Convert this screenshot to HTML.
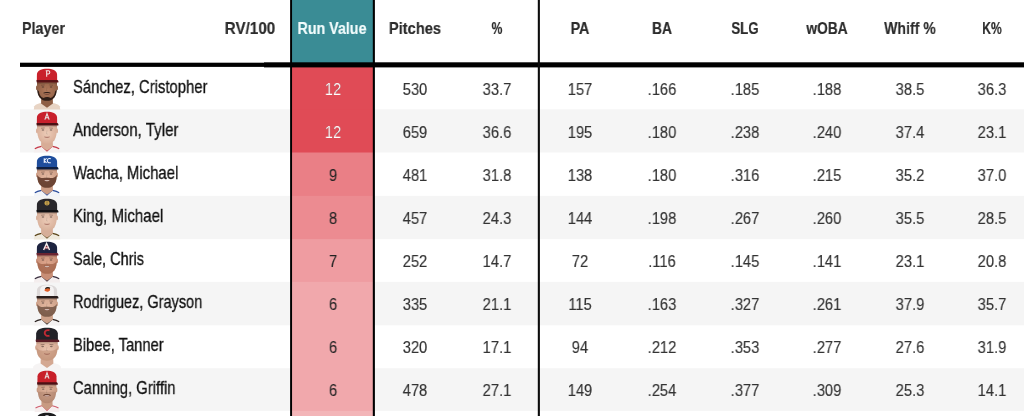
<!DOCTYPE html>
<html><head><meta charset="utf-8"><style>
html,body{margin:0;padding:0;background:#fff;}
body{width:1024px;height:416px;overflow:hidden;position:relative;font-family:"Liberation Sans",sans-serif;}
.a{position:absolute;}
.t{position:absolute;white-space:nowrap;line-height:normal;will-change:transform;}
.c{text-align:center;width:120px;transform-origin:60px 0;}
.h{font-weight:bold;color:#2b2b2b;font-size:17.3px;-webkit-text-stroke:0.2px currentColor;}
.n{color:#333;font-size:17.4px;-webkit-text-stroke:0.15px #333;}
.nm{color:#111;font-size:17.8px;transform-origin:0 0;-webkit-text-stroke:0.3px #111;}
</style></head><body>

<svg class="a" style="left:0;top:0" width="1024" height="416" viewBox="0 0 1024 416"><rect x="20" y="109.30" width="1004" height="43.20" fill="#f5f5f5"/><rect x="20" y="195.90" width="1004" height="43.20" fill="#f5f5f5"/><rect x="20" y="281.90" width="1004" height="43.45" fill="#f5f5f5"/><rect x="20" y="368.20" width="1004" height="42.70" fill="#f5f5f5"/><rect x="291" y="0" width="83" height="64" fill="#3a8c95"/><rect x="291" y="66.90" width="83" height="43.40" fill="#e04b56"/><rect x="291" y="109.30" width="83" height="44.20" fill="#e04b56"/><rect x="291" y="152.50" width="83" height="44.40" fill="#ea7f86"/><rect x="291" y="195.90" width="83" height="44.20" fill="#ec8b91"/><rect x="291" y="239.10" width="83" height="43.80" fill="#ef9ca1"/><rect x="291" y="281.90" width="83" height="44.45" fill="#f1a8ac"/><rect x="291" y="325.35" width="83" height="43.85" fill="#f1a8ac"/><rect x="291" y="368.20" width="83" height="43.70" fill="#f1a8ac"/><rect x="291" y="410.90" width="83" height="44.10" fill="#f3b5b8"/><rect x="20" y="62.7" width="244" height="4.2" fill="#000"/><rect x="264" y="62.3" width="760" height="5.1" fill="#000"/><rect x="290.1" y="0" width="1.95" height="416" fill="#000"/><rect x="372.8" y="0" width="2.1" height="416" fill="#000"/><rect x="537.8" y="0" width="2.1" height="416" fill="#0c0c0c"/></svg>
<div class="t h" style="left:22.40px;top:18.04px;transform:scaleX(0.8280);transform-origin:0 0">Player</div>
<div class="t h c" style="left:272.40px;top:18.04px;transform:scaleX(0.8249);color:#f2fcfc">Run Value</div>
<div class="t h c" style="left:189.95px;top:18.04px;transform:scaleX(0.8800)">RV/100</div>
<div class="t h c" style="left:354.60px;top:18.04px;transform:scaleX(0.8483)">Pitches</div>
<div class="t h c" style="left:437.00px;top:18.04px;transform:scaleX(0.6957)">%</div>
<div class="t h c" style="left:519.90px;top:18.04px;transform:scaleX(0.8308)">PA</div>
<div class="t h c" style="left:602.30px;top:18.04px;transform:scaleX(0.7966)">BA</div>
<div class="t h c" style="left:684.50px;top:18.04px;transform:scaleX(0.7703)">SLG</div>
<div class="t h c" style="left:767.20px;top:18.04px;transform:scaleX(0.7930)">wOBA</div>
<div class="t h c" style="left:849.70px;top:18.04px;transform:scaleX(0.8152)">Whiff %</div>
<div class="t h c" style="left:932.40px;top:18.04px;transform:scaleX(0.7068)">K%</div>
<div class="t nm" style="left:73.30px;top:76.69px;transform:scaleX(0.8346)">Sánchez, Cristopher</div>
<div class="t n c" style="left:272.50px;top:79.15px;transform:scaleX(0.8450);color:#ffffff">12</div>
<div class="t n c" style="left:355.30px;top:79.15px;transform:scaleX(0.8450)">530</div>
<div class="t n c" style="left:436.80px;top:79.15px;transform:scaleX(0.8450)">33.7</div>
<div class="t n c" style="left:520.10px;top:79.15px;transform:scaleX(0.8450)">157</div>
<div class="t n c" style="left:602.40px;top:79.15px;transform:scaleX(0.8450)">.166</div>
<div class="t n c" style="left:685.00px;top:79.15px;transform:scaleX(0.8450)">.185</div>
<div class="t n c" style="left:767.40px;top:79.15px;transform:scaleX(0.8450)">.188</div>
<div class="t n c" style="left:850.00px;top:79.15px;transform:scaleX(0.8450)">38.5</div>
<div class="t n c" style="left:932.20px;top:79.15px;transform:scaleX(0.8450)">36.3</div>
<div class="t nm" style="left:73.30px;top:119.69px;transform:scaleX(0.8493)">Anderson, Tyler</div>
<div class="t n c" style="left:272.50px;top:122.15px;transform:scaleX(0.8450);color:#ffffff">12</div>
<div class="t n c" style="left:355.30px;top:122.15px;transform:scaleX(0.8450)">659</div>
<div class="t n c" style="left:436.80px;top:122.15px;transform:scaleX(0.8450)">36.6</div>
<div class="t n c" style="left:520.10px;top:122.15px;transform:scaleX(0.8450)">195</div>
<div class="t n c" style="left:602.40px;top:122.15px;transform:scaleX(0.8450)">.180</div>
<div class="t n c" style="left:685.00px;top:122.15px;transform:scaleX(0.8450)">.238</div>
<div class="t n c" style="left:767.40px;top:122.15px;transform:scaleX(0.8450)">.240</div>
<div class="t n c" style="left:850.00px;top:122.15px;transform:scaleX(0.8450)">37.4</div>
<div class="t n c" style="left:932.20px;top:122.15px;transform:scaleX(0.8450)">23.1</div>
<div class="t nm" style="left:73.30px;top:162.69px;transform:scaleX(0.8367)">Wacha, Michael</div>
<div class="t n c" style="left:272.50px;top:165.15px;transform:scaleX(0.8450);color:#222">9</div>
<div class="t n c" style="left:355.30px;top:165.15px;transform:scaleX(0.8450)">481</div>
<div class="t n c" style="left:436.80px;top:165.15px;transform:scaleX(0.8450)">31.8</div>
<div class="t n c" style="left:520.10px;top:165.15px;transform:scaleX(0.8450)">138</div>
<div class="t n c" style="left:602.40px;top:165.15px;transform:scaleX(0.8450)">.180</div>
<div class="t n c" style="left:685.00px;top:165.15px;transform:scaleX(0.8450)">.316</div>
<div class="t n c" style="left:767.40px;top:165.15px;transform:scaleX(0.8450)">.215</div>
<div class="t n c" style="left:850.00px;top:165.15px;transform:scaleX(0.8450)">35.2</div>
<div class="t n c" style="left:932.20px;top:165.15px;transform:scaleX(0.8450)">37.0</div>
<div class="t nm" style="left:73.30px;top:205.69px;transform:scaleX(0.8460)">King, Michael</div>
<div class="t n c" style="left:272.50px;top:208.15px;transform:scaleX(0.8450);color:#222">8</div>
<div class="t n c" style="left:355.30px;top:208.15px;transform:scaleX(0.8450)">457</div>
<div class="t n c" style="left:436.80px;top:208.15px;transform:scaleX(0.8450)">24.3</div>
<div class="t n c" style="left:520.10px;top:208.15px;transform:scaleX(0.8450)">144</div>
<div class="t n c" style="left:602.40px;top:208.15px;transform:scaleX(0.8450)">.198</div>
<div class="t n c" style="left:685.00px;top:208.15px;transform:scaleX(0.8450)">.267</div>
<div class="t n c" style="left:767.40px;top:208.15px;transform:scaleX(0.8450)">.260</div>
<div class="t n c" style="left:850.00px;top:208.15px;transform:scaleX(0.8450)">35.5</div>
<div class="t n c" style="left:932.20px;top:208.15px;transform:scaleX(0.8450)">28.5</div>
<div class="t nm" style="left:73.30px;top:248.69px;transform:scaleX(0.8167)">Sale, Chris</div>
<div class="t n c" style="left:272.50px;top:251.15px;transform:scaleX(0.8450);color:#222">7</div>
<div class="t n c" style="left:355.30px;top:251.15px;transform:scaleX(0.8450)">252</div>
<div class="t n c" style="left:436.80px;top:251.15px;transform:scaleX(0.8450)">14.7</div>
<div class="t n c" style="left:520.10px;top:251.15px;transform:scaleX(0.8450)">72</div>
<div class="t n c" style="left:602.40px;top:251.15px;transform:scaleX(0.8450)">.116</div>
<div class="t n c" style="left:685.00px;top:251.15px;transform:scaleX(0.8450)">.145</div>
<div class="t n c" style="left:767.40px;top:251.15px;transform:scaleX(0.8450)">.141</div>
<div class="t n c" style="left:850.00px;top:251.15px;transform:scaleX(0.8450)">23.1</div>
<div class="t n c" style="left:932.20px;top:251.15px;transform:scaleX(0.8450)">20.8</div>
<div class="t nm" style="left:73.30px;top:291.69px;transform:scaleX(0.8175)">Rodriguez, Grayson</div>
<div class="t n c" style="left:272.50px;top:294.15px;transform:scaleX(0.8450);color:#222">6</div>
<div class="t n c" style="left:355.30px;top:294.15px;transform:scaleX(0.8450)">335</div>
<div class="t n c" style="left:436.80px;top:294.15px;transform:scaleX(0.8450)">21.1</div>
<div class="t n c" style="left:520.10px;top:294.15px;transform:scaleX(0.8450)">115</div>
<div class="t n c" style="left:602.40px;top:294.15px;transform:scaleX(0.8450)">.163</div>
<div class="t n c" style="left:685.00px;top:294.15px;transform:scaleX(0.8450)">.327</div>
<div class="t n c" style="left:767.40px;top:294.15px;transform:scaleX(0.8450)">.261</div>
<div class="t n c" style="left:850.00px;top:294.15px;transform:scaleX(0.8450)">37.9</div>
<div class="t n c" style="left:932.20px;top:294.15px;transform:scaleX(0.8450)">35.7</div>
<div class="t nm" style="left:73.30px;top:334.69px;transform:scaleX(0.8290)">Bibee, Tanner</div>
<div class="t n c" style="left:272.50px;top:337.15px;transform:scaleX(0.8450);color:#222">6</div>
<div class="t n c" style="left:355.30px;top:337.15px;transform:scaleX(0.8450)">320</div>
<div class="t n c" style="left:436.80px;top:337.15px;transform:scaleX(0.8450)">17.1</div>
<div class="t n c" style="left:520.10px;top:337.15px;transform:scaleX(0.8450)">94</div>
<div class="t n c" style="left:602.40px;top:337.15px;transform:scaleX(0.8450)">.212</div>
<div class="t n c" style="left:685.00px;top:337.15px;transform:scaleX(0.8450)">.353</div>
<div class="t n c" style="left:767.40px;top:337.15px;transform:scaleX(0.8450)">.277</div>
<div class="t n c" style="left:850.00px;top:337.15px;transform:scaleX(0.8450)">27.6</div>
<div class="t n c" style="left:932.20px;top:337.15px;transform:scaleX(0.8450)">31.9</div>
<div class="t nm" style="left:73.30px;top:377.69px;transform:scaleX(0.8318)">Canning, Griffin</div>
<div class="t n c" style="left:272.50px;top:380.15px;transform:scaleX(0.8450);color:#222">6</div>
<div class="t n c" style="left:355.30px;top:380.15px;transform:scaleX(0.8450)">478</div>
<div class="t n c" style="left:436.80px;top:380.15px;transform:scaleX(0.8450)">27.1</div>
<div class="t n c" style="left:520.10px;top:380.15px;transform:scaleX(0.8450)">149</div>
<div class="t n c" style="left:602.40px;top:380.15px;transform:scaleX(0.8450)">.254</div>
<div class="t n c" style="left:685.00px;top:380.15px;transform:scaleX(0.8450)">.377</div>
<div class="t n c" style="left:767.40px;top:380.15px;transform:scaleX(0.8450)">.309</div>
<div class="t n c" style="left:850.00px;top:380.15px;transform:scaleX(0.8450)">25.3</div>
<div class="t n c" style="left:932.20px;top:380.15px;transform:scaleX(0.8450)">14.1</div>
<svg class="a" style="left:33.00px;top:68.40px;filter:blur(0.35px);transform:scale(1.060,1.020);transform-origin:14px 0" width="28" height="41" viewBox="0 0 28 41"><defs><radialGradient id="h1" cx="0.5" cy="0.45" r="0.6"><stop offset="0" stop-color="#b27a5c"/><stop offset="1" stop-color="#8e5e44"/></radialGradient></defs><path d="M1.5,41 L2,37.5 C3.5,35.4 6.5,34.7 9,34.4 L19,34.4 C21.5,34.7 24.5,35.4 26,37.5 L26.5,41 Z" fill="#e8d4c4"/><path d="M8.6,27 L19.4,27 L19.6,34.8 L14,39 L8.4,34.8 Z" fill="#8e5e44"/><ellipse cx="4.6" cy="19.5" rx="1.0" ry="2.4" fill="#8e5e44"/><ellipse cx="23.4" cy="19.5" rx="1.0" ry="2.4" fill="#8e5e44"/><path d="M4.6,13.8 L23.4,13.8 C23.6,20 23,25.5 21,28.6 C19,31.4 16.6,32 14,32 C11.4,32 9,31.4 7,28.6 C5,25.5 4.4,20 4.6,13.8 Z" fill="url(#h1)"/><path d="M4.8,21 C5,25 5.6,26.8 7,28.6 C9,31.4 11.4,32.2 14,32.2 C16.6,32.2 19,31.4 21,28.6 C22.4,26.8 23,25 23.2,21 L21.6,23 C21.2,26.5 19.8,28.8 17.2,29.4 C15.6,28 12.4,28 10.8,29.4 C8.2,28.8 6.8,26.5 6.4,23 Z" fill="#231612" fill-opacity="0.90"/><path d="M10.6,24.2 C12,23.2 16,23.2 17.4,24.2 L17.2,25 C15.6,24.4 12.4,24.4 10.8,25 Z" fill="#231612" fill-opacity="0.90"/><ellipse cx="10.2" cy="18.6" rx="1.2" ry="0.65" fill="#2e2220" fill-opacity="0.5"/><ellipse cx="17.8" cy="18.6" rx="1.2" ry="0.65" fill="#2e2220" fill-opacity="0.5"/><path d="M8.4,16.9 L11.8,16.6 M16.2,16.6 L19.6,16.9" stroke="#4a3026" stroke-opacity="0.5" stroke-width="0.8"/><path d="M14,19 L13.4,22.4 L14.8,22.6" stroke="#000" stroke-opacity="0.12" stroke-width="0.7" fill="none"/><path d="M11.6,25.4 C13,26 15,26 16.4,25.4" stroke="#5a3028" stroke-width="0.9" fill="none" stroke-opacity="0.7"/><rect x="4.7" y="14" width="18.6" height="1.6" fill="#000" fill-opacity="0.14"/><path d="M4.4,12.8 L4.5,6 C5,2.2 8.8,0.7 14,0.7 C19.2,0.7 23,2.2 23.5,6 L23.6,12.8 Z" fill="#c9212b"/><path d="M4.2,11.8 L23.8,11.8 C24.6,12.3 25,13.2 24.7,14.3 L4.4,14.3 C4,13.4 4,12.5 4.2,11.8 Z" fill="#5a1216"/><path d="M12.8,2.8 L15.4,2.8 C17,2.8 17.1,5.7 15.4,5.8 L13.9,5.8 M13.7,2.8 L13.7,8.6" fill="none" stroke="#f4e8e8" stroke-width="1.0"/></svg>
<svg class="a" style="left:33.00px;top:111.45px;filter:blur(0.35px);transform:scale(1.060,1.020);transform-origin:14px 0" width="28" height="41" viewBox="0 0 28 41"><defs><radialGradient id="h2" cx="0.5" cy="0.45" r="0.6"><stop offset="0" stop-color="#ecccb8"/><stop offset="1" stop-color="#d8ac96"/></radialGradient></defs><path d="M1.5,41 L2,37.5 C3.5,35.4 6.5,34.7 9,34.4 L19,34.4 C21.5,34.7 24.5,35.4 26,37.5 L26.5,41 Z" fill="#f6f0f0"/><path d="M2.5,37 C5,35.5 7.5,35 9.2,34.6 L14,39.2 L18.8,34.6 C20.5,35 23,35.5 25.5,37" fill="none" stroke="#c43848" stroke-width="1.1"/><path d="M8.6,27 L19.4,27 L19.6,34.8 L14,39 L8.4,34.8 Z" fill="#d8ac96"/><ellipse cx="4.6" cy="19.5" rx="1.0" ry="2.4" fill="#d8ac96"/><ellipse cx="23.4" cy="19.5" rx="1.0" ry="2.4" fill="#d8ac96"/><path d="M4.6,13.8 L23.4,13.8 C23.6,20 23,25.5 21,28.6 C19,31.4 16.6,32 14,32 C11.4,32 9,31.4 7,28.6 C5,25.5 4.4,20 4.6,13.8 Z" fill="url(#h2)"/><ellipse cx="10.2" cy="18.6" rx="1.2" ry="0.65" fill="#2e2220" fill-opacity="0.5"/><ellipse cx="17.8" cy="18.6" rx="1.2" ry="0.65" fill="#2e2220" fill-opacity="0.5"/><path d="M8.4,16.9 L11.8,16.6 M16.2,16.6 L19.6,16.9" stroke="#4a3026" stroke-opacity="0.5" stroke-width="0.8"/><path d="M14,19 L13.4,22.4 L14.8,22.6" stroke="#000" stroke-opacity="0.12" stroke-width="0.7" fill="none"/><path d="M11.6,25.4 C13,26 15,26 16.4,25.4" stroke="#8a4a40" stroke-width="0.9" fill="none" stroke-opacity="0.7"/><rect x="4.7" y="14" width="18.6" height="1.6" fill="#000" fill-opacity="0.14"/><path d="M4.4,12.8 L4.5,6 C5,2.2 8.8,0.7 14,0.7 C19.2,0.7 23,2.2 23.5,6 L23.6,12.8 Z" fill="#c8202c"/><path d="M4.2,11.8 L23.8,11.8 C24.6,12.3 25,13.2 24.7,14.3 L4.4,14.3 C4,13.4 4,12.5 4.2,11.8 Z" fill="#4a1014"/><path d="M12,8.4 L14,2.6 L16,8.4 M12.8,6.6 L15.2,6.6" fill="none" stroke="#e8e0e0" stroke-width="1.1"/></svg>
<svg class="a" style="left:33.00px;top:154.50px;filter:blur(0.35px);transform:scale(1.060,1.020);transform-origin:14px 0" width="28" height="41" viewBox="0 0 28 41"><defs><radialGradient id="h3" cx="0.5" cy="0.45" r="0.6"><stop offset="0" stop-color="#e6bca4"/><stop offset="1" stop-color="#cc9c84"/></radialGradient></defs><path d="M1.5,41 L2,37.5 C3.5,35.4 6.5,34.7 9,34.4 L19,34.4 C21.5,34.7 24.5,35.4 26,37.5 L26.5,41 Z" fill="#f2f4f8"/><path d="M2.5,37 C5,35.5 7.5,35 9.2,34.6 L14,39.2 L18.8,34.6 C20.5,35 23,35.5 25.5,37" fill="none" stroke="#2a4c9c" stroke-width="1.1"/><path d="M8.6,27 L19.4,27 L19.6,34.8 L14,39 L8.4,34.8 Z" fill="#cc9c84"/><ellipse cx="4.6" cy="19.5" rx="1.0" ry="2.4" fill="#cc9c84"/><ellipse cx="23.4" cy="19.5" rx="1.0" ry="2.4" fill="#cc9c84"/><path d="M4.6,13.8 L23.4,13.8 C23.6,20 23,25.5 21,28.6 C19,31.4 16.6,32 14,32 C11.4,32 9,31.4 7,28.6 C5,25.5 4.4,20 4.6,13.8 Z" fill="url(#h3)"/><path d="M4.7,19.5 C4.9,24.5 5.6,26.8 7,28.6 C9,31.4 11.4,32.2 14,32.2 C16.6,32.2 19,31.4 21,28.6 C22.4,26.8 23.1,24.5 23.3,19.5 C21.8,21.6 19.8,22.6 17.8,22.6 C16,22.2 12,22.2 10.2,22.6 C8.2,22.6 6.2,21.6 4.7,19.5 Z" fill="#5a3424" fill-opacity="0.85"/><ellipse cx="10.2" cy="18.6" rx="1.2" ry="0.65" fill="#2e2220" fill-opacity="0.5"/><ellipse cx="17.8" cy="18.6" rx="1.2" ry="0.65" fill="#2e2220" fill-opacity="0.5"/><path d="M8.4,16.9 L11.8,16.6 M16.2,16.6 L19.6,16.9" stroke="#4a3026" stroke-opacity="0.5" stroke-width="0.8"/><path d="M14,19 L13.4,22.4 L14.8,22.6" stroke="#000" stroke-opacity="0.12" stroke-width="0.7" fill="none"/><path d="M11.2,24.6 C12.4,26.2 15.6,26.2 16.8,24.6 Z" fill="#f4eee8" stroke="#7a3a30" stroke-width="0.5" stroke-opacity="0.7"/><rect x="4.7" y="14" width="18.6" height="1.6" fill="#000" fill-opacity="0.14"/><path d="M4.4,12.8 L4.5,6 C5,2.2 8.8,0.7 14,0.7 C19.2,0.7 23,2.2 23.5,6 L23.6,12.8 Z" fill="#1f4d9c"/><path d="M4.2,11.8 L23.8,11.8 C24.6,12.3 25,13.2 24.7,14.3 L4.4,14.3 C4,13.4 4,12.5 4.2,11.8 Z" fill="#0e1e40"/><path d="M11.4,3.2 L11.4,7.8 M11.4,5.6 L13.6,3.2 M11.4,5.6 L13.6,7.8 M17.6,3.6 C15.2,2.8 14.3,4.3 14.3,5.5 C14.3,7.1 15.5,8.1 17.6,7.5" fill="none" stroke="#f0f4ff" stroke-width="1.0"/></svg>
<svg class="a" style="left:33.00px;top:197.55px;filter:blur(0.35px);transform:scale(1.060,1.020);transform-origin:14px 0" width="28" height="41" viewBox="0 0 28 41"><defs><radialGradient id="h4" cx="0.5" cy="0.45" r="0.6"><stop offset="0" stop-color="#eccab6"/><stop offset="1" stop-color="#d6ae98"/></radialGradient></defs><path d="M1.5,41 L2,37.5 C3.5,35.4 6.5,34.7 9,34.4 L19,34.4 C21.5,34.7 24.5,35.4 26,37.5 L26.5,41 Z" fill="#efe9dc"/><path d="M2.5,37 C5,35.5 7.5,35 9.2,34.6 L14,39.2 L18.8,34.6 C20.5,35 23,35.5 25.5,37" fill="none" stroke="#5a4418" stroke-width="1.1"/><path d="M8.6,27 L19.4,27 L19.6,34.8 L14,39 L8.4,34.8 Z" fill="#d6ae98"/><ellipse cx="4.6" cy="19.5" rx="1.0" ry="2.4" fill="#d6ae98"/><ellipse cx="23.4" cy="19.5" rx="1.0" ry="2.4" fill="#d6ae98"/><path d="M4.6,13.8 L23.4,13.8 C23.6,20 23,25.5 21,28.6 C19,31.4 16.6,32 14,32 C11.4,32 9,31.4 7,28.6 C5,25.5 4.4,20 4.6,13.8 Z" fill="url(#h4)"/><ellipse cx="10.2" cy="18.6" rx="1.2" ry="0.65" fill="#2e2220" fill-opacity="0.5"/><ellipse cx="17.8" cy="18.6" rx="1.2" ry="0.65" fill="#2e2220" fill-opacity="0.5"/><path d="M8.4,16.9 L11.8,16.6 M16.2,16.6 L19.6,16.9" stroke="#4a3026" stroke-opacity="0.5" stroke-width="0.8"/><path d="M14,19 L13.4,22.4 L14.8,22.6" stroke="#000" stroke-opacity="0.12" stroke-width="0.7" fill="none"/><path d="M11.6,25.4 C13,26 15,26 16.4,25.4" stroke="#8a4a40" stroke-width="0.9" fill="none" stroke-opacity="0.7"/><rect x="4.7" y="14" width="18.6" height="1.6" fill="#000" fill-opacity="0.14"/><path d="M4.4,12.8 L4.5,6 C5,2.2 8.8,0.7 14,0.7 C19.2,0.7 23,2.2 23.5,6 L23.6,12.8 Z" fill="#29272b"/><path d="M4.2,11.8 L23.8,11.8 C24.6,12.3 25,13.2 24.7,14.3 L4.4,14.3 C4,13.4 4,12.5 4.2,11.8 Z" fill="#121114"/><circle cx="14" cy="5" r="2.4" fill="#c9a24a"/><path d="M13,4 L15,4 M13,6 L15,6" stroke="#29272b" stroke-width="0.6" stroke-opacity="0.6"/></svg>
<svg class="a" style="left:33.00px;top:240.60px;filter:blur(0.35px);transform:scale(1.060,1.020);transform-origin:14px 0" width="28" height="41" viewBox="0 0 28 41"><defs><radialGradient id="h5" cx="0.5" cy="0.45" r="0.6"><stop offset="0" stop-color="#e0a88e"/><stop offset="1" stop-color="#c88e76"/></radialGradient></defs><path d="M1.5,41 L2,37.5 C3.5,35.4 6.5,34.7 9,34.4 L19,34.4 C21.5,34.7 24.5,35.4 26,37.5 L26.5,41 Z" fill="#f4eeee"/><path d="M2.5,37 C5,35.5 7.5,35 9.2,34.6 L14,39.2 L18.8,34.6 C20.5,35 23,35.5 25.5,37" fill="none" stroke="#3a3040" stroke-width="1.1"/><path d="M8.6,27 L19.4,27 L19.6,34.8 L14,39 L8.4,34.8 Z" fill="#c88e76"/><ellipse cx="4.6" cy="19.5" rx="1.0" ry="2.4" fill="#c88e76"/><ellipse cx="23.4" cy="19.5" rx="1.0" ry="2.4" fill="#c88e76"/><path d="M4.6,13.8 L23.4,13.8 C23.6,20 23,25.5 21,28.6 C19,31.4 16.6,32 14,32 C11.4,32 9,31.4 7,28.6 C5,25.5 4.4,20 4.6,13.8 Z" fill="url(#h5)"/><path d="M4.7,19.5 C4.9,24.5 5.6,26.8 7,28.6 C9,31.4 11.4,32.2 14,32.2 C16.6,32.2 19,31.4 21,28.6 C22.4,26.8 23.1,24.5 23.3,19.5 C21.8,21.6 19.8,22.6 17.8,22.6 C16,22.2 12,22.2 10.2,22.6 C8.2,22.6 6.2,21.6 4.7,19.5 Z" fill="#9a5a40" fill-opacity="0.65"/><ellipse cx="10.2" cy="18.6" rx="1.2" ry="0.65" fill="#2e2220" fill-opacity="0.5"/><ellipse cx="17.8" cy="18.6" rx="1.2" ry="0.65" fill="#2e2220" fill-opacity="0.5"/><path d="M8.4,16.9 L11.8,16.6 M16.2,16.6 L19.6,16.9" stroke="#4a3026" stroke-opacity="0.5" stroke-width="0.8"/><path d="M14,19 L13.4,22.4 L14.8,22.6" stroke="#000" stroke-opacity="0.12" stroke-width="0.7" fill="none"/><path d="M11.2,24.6 C12.4,26.2 15.6,26.2 16.8,24.6 Z" fill="#f4eee8" stroke="#7a3a30" stroke-width="0.5" stroke-opacity="0.7"/><rect x="4.7" y="14" width="18.6" height="1.6" fill="#000" fill-opacity="0.14"/><path d="M4.4,12.8 L4.5,6 C5,2.2 8.8,0.7 14,0.7 C19.2,0.7 23,2.2 23.5,6 L23.6,12.8 Z" fill="#1d2340"/><path d="M4.2,11.8 L23.8,11.8 C24.6,12.3 25,13.2 24.7,14.3 L4.4,14.3 C4,13.4 4,12.5 4.2,11.8 Z" fill="#6a2430"/><path d="M10.8,8.8 L13.6,2.4 L16.4,8.8 M11.8,6.8 L15.6,6.4" fill="none" stroke="#f2eeee" stroke-width="1.3"/><path d="M12.2,8.4 L13.6,4.8 L15,8.4" fill="none" stroke="#c8303c" stroke-width="0.5"/></svg>
<svg class="a" style="left:33.00px;top:283.65px;filter:blur(0.35px);transform:scale(1.060,1.020);transform-origin:14px 0" width="28" height="41" viewBox="0 0 28 41"><defs><radialGradient id="h6" cx="0.5" cy="0.45" r="0.6"><stop offset="0" stop-color="#e4b8a0"/><stop offset="1" stop-color="#cca088"/></radialGradient></defs><path d="M1.5,41 L2,37.5 C3.5,35.4 6.5,34.7 9,34.4 L19,34.4 C21.5,34.7 24.5,35.4 26,37.5 L26.5,41 Z" fill="#f4f2f2"/><path d="M2.5,37 C5,35.5 7.5,35 9.2,34.6 L14,39.2 L18.8,34.6 C20.5,35 23,35.5 25.5,37" fill="none" stroke="#2a2220" stroke-width="1.1"/><path d="M8.6,27 L19.4,27 L19.6,34.8 L14,39 L8.4,34.8 Z" fill="#cca088"/><ellipse cx="4.6" cy="19.5" rx="1.0" ry="2.4" fill="#cca088"/><ellipse cx="23.4" cy="19.5" rx="1.0" ry="2.4" fill="#cca088"/><path d="M4.6,13.8 L23.4,13.8 C23.6,20 23,25.5 21,28.6 C19,31.4 16.6,32 14,32 C11.4,32 9,31.4 7,28.6 C5,25.5 4.4,20 4.6,13.8 Z" fill="url(#h6)"/><path d="M4.7,19.5 C4.9,24.5 5.6,26.8 7,28.6 C9,31.4 11.4,32.2 14,32.2 C16.6,32.2 19,31.4 21,28.6 C22.4,26.8 23.1,24.5 23.3,19.5 C21.8,21.6 19.8,22.6 17.8,22.6 C16,22.2 12,22.2 10.2,22.6 C8.2,22.6 6.2,21.6 4.7,19.5 Z" fill="#3a2418" fill-opacity="0.55"/><ellipse cx="10.2" cy="18.6" rx="1.2" ry="0.65" fill="#2e2220" fill-opacity="0.5"/><ellipse cx="17.8" cy="18.6" rx="1.2" ry="0.65" fill="#2e2220" fill-opacity="0.5"/><path d="M8.4,16.9 L11.8,16.6 M16.2,16.6 L19.6,16.9" stroke="#4a3026" stroke-opacity="0.5" stroke-width="0.8"/><path d="M14,19 L13.4,22.4 L14.8,22.6" stroke="#000" stroke-opacity="0.12" stroke-width="0.7" fill="none"/><path d="M11.2,24.6 C12.4,26.2 15.6,26.2 16.8,24.6 Z" fill="#f4eee8" stroke="#7a3a30" stroke-width="0.5" stroke-opacity="0.7"/><rect x="4.7" y="14" width="18.6" height="1.6" fill="#000" fill-opacity="0.14"/><path d="M4.4,12.8 L4.5,6 C5,2.2 8.8,0.7 14,0.7 C19.2,0.7 23,2.2 23.5,6 L23.6,12.8 Z" fill="#dcd8d8"/><path d="M7.4,12.2 L7.6,5 C8.4,2.2 10.6,1.3 14,1.3 C17.4,1.3 19.6,2.2 20.4,5 L20.6,12.2 Z" fill="#f4f2f2"/><path d="M4.2,11.8 L23.8,11.8 C24.6,12.3 25,13.2 24.7,14.3 L4.4,14.3 C4,13.4 4,12.5 4.2,11.8 Z" fill="#2a1e1c"/><path d="M11.6,6.2 C12,3.8 14.5,2.6 16.6,3.8 L17,5.8 C16,7.8 13,8.4 11.6,6.2 Z" fill="#e0602a"/><path d="M12.4,4.6 C13.5,3.6 15.5,3.4 16.8,4.2" stroke="#1a1a1a" stroke-width="1.1" fill="none"/></svg>
<svg class="a" style="left:33.00px;top:326.70px;filter:blur(0.35px);transform:scale(1.140,1.050);transform-origin:14px 0" width="28" height="41" viewBox="0 0 28 41"><defs><radialGradient id="h7" cx="0.5" cy="0.45" r="0.6"><stop offset="0" stop-color="#eac4b0"/><stop offset="1" stop-color="#d4a892"/></radialGradient></defs><path d="M1.5,41 L2,37.5 C3.5,35.4 6.5,34.7 9,34.4 L19,34.4 C21.5,34.7 24.5,35.4 26,37.5 L26.5,41 Z" fill="#f6f4f4"/><path d="M8.6,27 L19.4,27 L19.6,34.8 L14,39 L8.4,34.8 Z" fill="#d4a892"/><ellipse cx="4.6" cy="19.5" rx="1.0" ry="2.4" fill="#d4a892"/><ellipse cx="23.4" cy="19.5" rx="1.0" ry="2.4" fill="#d4a892"/><path d="M4.6,13.8 L23.4,13.8 C23.6,20 23,25.5 21,28.6 C19,31.4 16.6,32 14,32 C11.4,32 9,31.4 7,28.6 C5,25.5 4.4,20 4.6,13.8 Z" fill="url(#h7)"/><path d="M4.7,19.5 C4.9,24.5 5.6,26.8 7,28.6 C9,31.4 11.4,32.2 14,32.2 C16.6,32.2 19,31.4 21,28.6 C22.4,26.8 23.1,24.5 23.3,19.5 C21.8,21.6 19.8,22.6 17.8,22.6 C16,22.2 12,22.2 10.2,22.6 C8.2,22.6 6.2,21.6 4.7,19.5 Z" fill="#b07a5c" fill-opacity="0.40"/><ellipse cx="10.2" cy="18.6" rx="1.2" ry="0.65" fill="#2e2220" fill-opacity="0.5"/><ellipse cx="17.8" cy="18.6" rx="1.2" ry="0.65" fill="#2e2220" fill-opacity="0.5"/><path d="M8.4,16.9 L11.8,16.6 M16.2,16.6 L19.6,16.9" stroke="#4a3026" stroke-opacity="0.5" stroke-width="0.8"/><path d="M14,19 L13.4,22.4 L14.8,22.6" stroke="#000" stroke-opacity="0.12" stroke-width="0.7" fill="none"/><path d="M11.6,25.4 C13,26 15,26 16.4,25.4" stroke="#8a4a40" stroke-width="0.9" fill="none" stroke-opacity="0.7"/><rect x="4.7" y="14" width="18.6" height="1.6" fill="#000" fill-opacity="0.14"/><path d="M4.4,12.8 L4.5,6 C5,2.2 8.8,0.7 14,0.7 C19.2,0.7 23,2.2 23.5,6 L23.6,12.8 Z" fill="#222228"/><path d="M4.2,11.8 L23.8,11.8 C24.6,12.3 25,13.2 24.7,14.3 L4.4,14.3 C4,13.4 4,12.5 4.2,11.8 Z" fill="#5a1c26"/><path d="M16.2,3.2 C14,2.4 12,3.8 12,5.8 C12,7.8 14,9 16.2,8.2" fill="none" stroke="#c02a34" stroke-width="1.7"/></svg>
<svg class="a" style="left:33.00px;top:369.75px;filter:blur(0.35px);transform:scale(1.000,1.030);transform-origin:14px 0" width="28" height="41" viewBox="0 0 28 41"><defs><radialGradient id="h8" cx="0.5" cy="0.45" r="0.6"><stop offset="0" stop-color="#e0b49c"/><stop offset="1" stop-color="#c89a82"/></radialGradient></defs><path d="M1.5,41 L2,37.5 C3.5,35.4 6.5,34.7 9,34.4 L19,34.4 C21.5,34.7 24.5,35.4 26,37.5 L26.5,41 Z" fill="#f6eeee"/><path d="M2.5,37 C5,35.5 7.5,35 9.2,34.6 L14,39.2 L18.8,34.6 C20.5,35 23,35.5 25.5,37" fill="none" stroke="#d06070" stroke-width="1.1"/><path d="M8.6,27 L19.4,27 L19.6,34.8 L14,39 L8.4,34.8 Z" fill="#c89a82"/><ellipse cx="4.6" cy="19.5" rx="1.0" ry="2.4" fill="#c89a82"/><ellipse cx="23.4" cy="19.5" rx="1.0" ry="2.4" fill="#c89a82"/><path d="M4.6,13.8 L23.4,13.8 C23.6,20 23,25.5 21,28.6 C19,31.4 16.6,32 14,32 C11.4,32 9,31.4 7,28.6 C5,25.5 4.4,20 4.6,13.8 Z" fill="url(#h8)"/><path d="M10.2,24.4 C11.8,23 16.2,23 17.8,24.4 L17.6,25.3 C15.8,24.4 12.2,24.4 10.4,25.3 Z" fill="#5a3424" fill-opacity="0.80"/><path d="M4.8,21 C5,25 5.6,26.8 7,28.6 C9,31.4 11.4,32.2 14,32.2 C16.6,32.2 19,31.4 21,28.6 C22.4,26.8 23,25 23.2,21 Z" fill="#5a3424" fill-opacity="0.18"/><ellipse cx="10.2" cy="18.6" rx="1.2" ry="0.65" fill="#2e2220" fill-opacity="0.5"/><ellipse cx="17.8" cy="18.6" rx="1.2" ry="0.65" fill="#2e2220" fill-opacity="0.5"/><path d="M8.4,16.9 L11.8,16.6 M16.2,16.6 L19.6,16.9" stroke="#4a3026" stroke-opacity="0.5" stroke-width="0.8"/><path d="M14,19 L13.4,22.4 L14.8,22.6" stroke="#000" stroke-opacity="0.12" stroke-width="0.7" fill="none"/><path d="M11.2,24.6 C12.4,26.2 15.6,26.2 16.8,24.6 Z" fill="#f4eee8" stroke="#7a3a30" stroke-width="0.5" stroke-opacity="0.7"/><rect x="4.7" y="14" width="18.6" height="1.6" fill="#000" fill-opacity="0.14"/><path d="M4.4,12.8 L4.5,6 C5,2.2 8.8,0.7 14,0.7 C19.2,0.7 23,2.2 23.5,6 L23.6,12.8 Z" fill="#c8202a"/><path d="M4.2,11.8 L23.8,11.8 C24.6,12.3 25,13.2 24.7,14.3 L4.4,14.3 C4,13.4 4,12.5 4.2,11.8 Z" fill="#4a1014"/><path d="M12,8.4 L14,2.6 L16,8.4 M12.8,6.6 L15.2,6.6" fill="none" stroke="#e8e0e0" stroke-width="1.1"/></svg>
<svg class="a" style="left:33.00px;top:411.90px;filter:blur(0.35px);transform:scale(1.060,1.020);transform-origin:14px 0" width="28" height="41" viewBox="0 0 28 41"><defs><radialGradient id="h9" cx="0.5" cy="0.45" r="0.6"><stop offset="0" stop-color="#d8a88c"/><stop offset="1" stop-color="#d8a88c"/></radialGradient></defs><path d="M1.5,41 L2,37.5 C3.5,35.4 6.5,34.7 9,34.4 L19,34.4 C21.5,34.7 24.5,35.4 26,37.5 L26.5,41 Z" fill="#f7f5f5"/><path d="M8.6,27 L19.4,27 L19.6,34.8 L14,39 L8.4,34.8 Z" fill="#d8a88c"/><ellipse cx="4.6" cy="19.5" rx="1.0" ry="2.4" fill="#d8a88c"/><ellipse cx="23.4" cy="19.5" rx="1.0" ry="2.4" fill="#d8a88c"/><path d="M4.6,13.8 L23.4,13.8 C23.6,20 23,25.5 21,28.6 C19,31.4 16.6,32 14,32 C11.4,32 9,31.4 7,28.6 C5,25.5 4.4,20 4.6,13.8 Z" fill="url(#h9)"/><ellipse cx="10.2" cy="18.6" rx="1.2" ry="0.65" fill="#2e2220" fill-opacity="0.5"/><ellipse cx="17.8" cy="18.6" rx="1.2" ry="0.65" fill="#2e2220" fill-opacity="0.5"/><path d="M8.4,16.9 L11.8,16.6 M16.2,16.6 L19.6,16.9" stroke="#4a3026" stroke-opacity="0.5" stroke-width="0.8"/><path d="M14,19 L13.4,22.4 L14.8,22.6" stroke="#000" stroke-opacity="0.12" stroke-width="0.7" fill="none"/><path d="M11.6,25.4 C13,26 15,26 16.4,25.4" stroke="#8a4a40" stroke-width="0.9" fill="none" stroke-opacity="0.7"/><rect x="4.7" y="14" width="18.6" height="1.6" fill="#000" fill-opacity="0.14"/><path d="M4.4,12.8 L4.5,6 C5,2.2 8.8,0.7 14,0.7 C19.2,0.7 23,2.2 23.5,6 L23.6,12.8 Z" fill="#1c1c1e"/><path d="M4.2,11.8 L23.8,11.8 C24.6,12.3 25,13.2 24.7,14.3 L4.4,14.3 C4,13.4 4,12.5 4.2,11.8 Z" fill="#111"/><ellipse cx="14" cy="5.5" rx="2.4" ry="2.6" fill="#c8c8cc"/></svg>
</body></html>
